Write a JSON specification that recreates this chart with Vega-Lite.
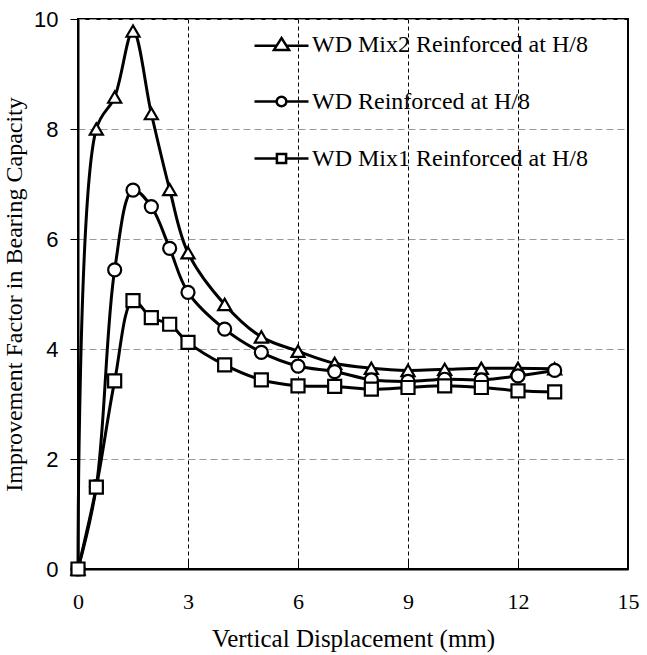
{
  "$schema": "https://vega.github.io/schema/vega-lite/v6.json",
  "autosize": "none",
  "width": 550,
  "height": 550,
  "padding": {"left": 78, "top": 19, "right": 19, "bottom": 86},
  "background": "white",
  "config": {
    "view": {"stroke": "black", "strokeWidth": 2},
    "axis": {"domainColor": "black", "domainWidth": 2, "tickColor": "black", "labelColor": "black", "titleColor": "black", "labelFlush": false}
  },
  "data": {"values": [
    {"x": 0, "y": 0, "s": "WD Mix2 Reinforced at H/8"},
    {"x": 0.5, "y": 8.0, "s": "WD Mix2 Reinforced at H/8"},
    {"x": 1, "y": 8.58, "s": "WD Mix2 Reinforced at H/8"},
    {"x": 1.5, "y": 9.78, "s": "WD Mix2 Reinforced at H/8"},
    {"x": 2, "y": 8.28, "s": "WD Mix2 Reinforced at H/8"},
    {"x": 2.5, "y": 6.9, "s": "WD Mix2 Reinforced at H/8"},
    {"x": 3, "y": 5.75, "s": "WD Mix2 Reinforced at H/8"},
    {"x": 4, "y": 4.81, "s": "WD Mix2 Reinforced at H/8"},
    {"x": 5, "y": 4.22, "s": "WD Mix2 Reinforced at H/8"},
    {"x": 6, "y": 3.96, "s": "WD Mix2 Reinforced at H/8"},
    {"x": 7, "y": 3.74, "s": "WD Mix2 Reinforced at H/8"},
    {"x": 8, "y": 3.65, "s": "WD Mix2 Reinforced at H/8"},
    {"x": 9, "y": 3.61, "s": "WD Mix2 Reinforced at H/8"},
    {"x": 10, "y": 3.63, "s": "WD Mix2 Reinforced at H/8"},
    {"x": 11, "y": 3.65, "s": "WD Mix2 Reinforced at H/8"},
    {"x": 12, "y": 3.65, "s": "WD Mix2 Reinforced at H/8"},
    {"x": 13, "y": 3.64, "s": "WD Mix2 Reinforced at H/8"},
    {"x": 0, "y": 0, "s": "WD Reinforced at H/8"},
    {"x": 0.5, "y": 1.5, "s": "WD Reinforced at H/8"},
    {"x": 1, "y": 5.44, "s": "WD Reinforced at H/8"},
    {"x": 1.5, "y": 6.89, "s": "WD Reinforced at H/8"},
    {"x": 2, "y": 6.59, "s": "WD Reinforced at H/8"},
    {"x": 2.5, "y": 5.83, "s": "WD Reinforced at H/8"},
    {"x": 3, "y": 5.03, "s": "WD Reinforced at H/8"},
    {"x": 4, "y": 4.36, "s": "WD Reinforced at H/8"},
    {"x": 5, "y": 3.94, "s": "WD Reinforced at H/8"},
    {"x": 6, "y": 3.69, "s": "WD Reinforced at H/8"},
    {"x": 7, "y": 3.59, "s": "WD Reinforced at H/8"},
    {"x": 8, "y": 3.44, "s": "WD Reinforced at H/8"},
    {"x": 9, "y": 3.41, "s": "WD Reinforced at H/8"},
    {"x": 10, "y": 3.45, "s": "WD Reinforced at H/8"},
    {"x": 11, "y": 3.44, "s": "WD Reinforced at H/8"},
    {"x": 12, "y": 3.51, "s": "WD Reinforced at H/8"},
    {"x": 13, "y": 3.61, "s": "WD Reinforced at H/8"},
    {"x": 0, "y": 0, "s": "WD Mix1 Reinforced at H/8"},
    {"x": 0.5, "y": 1.49, "s": "WD Mix1 Reinforced at H/8"},
    {"x": 1, "y": 3.42, "s": "WD Mix1 Reinforced at H/8"},
    {"x": 1.5, "y": 4.88, "s": "WD Mix1 Reinforced at H/8"},
    {"x": 2, "y": 4.57, "s": "WD Mix1 Reinforced at H/8"},
    {"x": 2.5, "y": 4.45, "s": "WD Mix1 Reinforced at H/8"},
    {"x": 3, "y": 4.12, "s": "WD Mix1 Reinforced at H/8"},
    {"x": 4, "y": 3.71, "s": "WD Mix1 Reinforced at H/8"},
    {"x": 5, "y": 3.44, "s": "WD Mix1 Reinforced at H/8"},
    {"x": 6, "y": 3.33, "s": "WD Mix1 Reinforced at H/8"},
    {"x": 7, "y": 3.32, "s": "WD Mix1 Reinforced at H/8"},
    {"x": 8, "y": 3.27, "s": "WD Mix1 Reinforced at H/8"},
    {"x": 9, "y": 3.30, "s": "WD Mix1 Reinforced at H/8"},
    {"x": 10, "y": 3.33, "s": "WD Mix1 Reinforced at H/8"},
    {"x": 11, "y": 3.30, "s": "WD Mix1 Reinforced at H/8"},
    {"x": 12, "y": 3.24, "s": "WD Mix1 Reinforced at H/8"},
    {"x": 13, "y": 3.22, "s": "WD Mix1 Reinforced at H/8"}
  ]},
  "encoding": {
    "x": {"field": "x", "type": "quantitative",
      "scale": {"domain": [0, 15], "nice": false, "zero": false},
      "axis": {"values": [0, 3, 6, 9, 12, 15], "title": "Vertical Displacement (mm)",
        "labelFont": "Liberation Serif", "labelFontSize": 22, "labelPadding": 30, "tickSize": -8, "tickWidth": 1,
        "titleFont": "Liberation Serif", "titleFontSize": 25, "titleFontWeight": "normal", "titlePadding": 14,
        "grid": true, "gridColor": "black", "gridDash": [4, 3], "gridWidth": 1}},
    "y": {"field": "y", "type": "quantitative",
      "scale": {"domain": [0, 10], "nice": false},
      "axis": {"values": [0, 2, 4, 6, 8, 10], "title": "Improvement Factor in Bearing Capacity",
        "labelFont": "Liberation Sans", "labelFontSize": 22, "labelPadding": 12, "tickSize": 8, "tickWidth": 1,
        "titleFont": "Liberation Serif", "titleFontSize": 24, "titleFontWeight": "normal", "titlePadding": 7,
        "grid": true, "gridColor": "#999999", "gridDash": [7, 4], "gridWidth": 1}}
  },
  "resolve": {"scale": {"shape": "independent"}, "legend": {"shape": "independent"}},
  "layer": [
    {
      "mark": {"type": "line", "interpolate": "catmull-rom", "color": "black", "strokeWidth": 3},
      "encoding": {"detail": {"field": "s"}}
    },
    {
      "mark": {"type": "point", "filled": true, "fill": "white", "stroke": "black", "strokeWidth": 2.2, "size": 170, "opacity": 1},
      "encoding": {
        "shape": {"field": "s", "type": "nominal",
          "scale": {"domain": ["WD Mix2 Reinforced at H/8", "WD Reinforced at H/8", "WD Mix1 Reinforced at H/8"],
                    "range": ["triangle-up", "circle", "square"]},
          "legend": null}
      }
    },
    {
      "mark": {"type": "point", "filled": false, "color": "black", "stroke": "black", "strokeWidth": 2.5, "size": 2916, "opacity": 0},
      "encoding": {
        "shape": {"field": "s", "type": "nominal",
          "scale": {"domain": ["WD Mix2 Reinforced at H/8", "WD Reinforced at H/8", "WD Mix1 Reinforced at H/8"],
                    "range": [
                      "M-1,0.05H-0.16M0.16,0.05H1M0,-0.24L0.28,0.2L-0.28,0.2Z",
                      "M-1,0H-0.18M0.18,0H1M0.18,0A0.18,0.18 0 1 1 -0.18,0A0.18,0.18 0 1 1 0.18,0Z",
                      "M-1,0H-0.17M0.17,0H1M-0.17,-0.17H0.17V0.17H-0.17Z"]},
          "legend": {"title": null, "orient": "none", "legendX": 175, "legendY": -3, "direction": "vertical",
            "padding": 0, "rowPadding": 16, "symbolSize": 2916, "labelOffset": 2,
            "labelFont": "Liberation Serif", "labelFontSize": 24, "labelColor": "black", "labelLimit": 0,
            "symbolOpacity": 1, "symbolFillColor": "white", "symbolStrokeColor": "black", "symbolStrokeWidth": 2.5}}
      }
    }
  ]
}
